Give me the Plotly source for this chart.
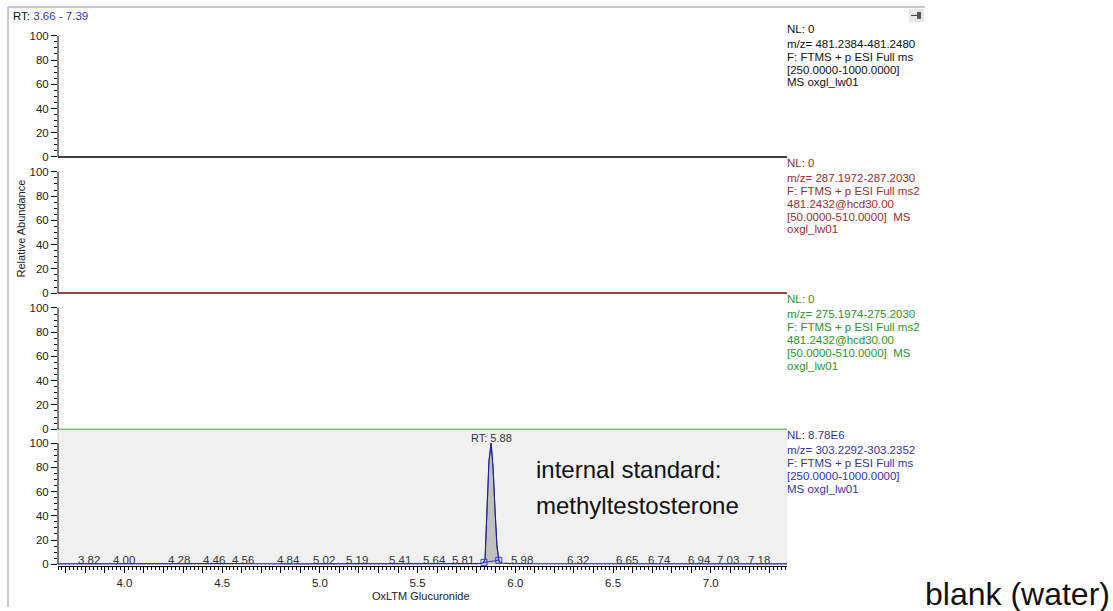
import plotly.graph_objects as go

W, H = 1113, 611

# ---------------- data ----------------
rt_range = [3.66, 7.39]
blank_rt = [3.66, 7.39]
blank_int = [0, 0]

is_rt = [3.66, 3.82, 4.00, 4.28, 4.46, 4.56, 4.84, 5.02, 5.19, 5.41, 5.64, 5.81,
         5.835, 5.845, 5.855, 5.865, 5.876, 5.886, 5.896, 5.906, 5.916, 5.925,
         5.98, 6.32, 6.65, 6.74, 6.94, 7.03, 7.18, 7.39]
is_int = [0.3, 0.4, 0.6, 0.3, 0.3, 0.5, 0.3, 0.3, 0.3, 0.3, 0.5, 0.5,
          1.0, 4.0, 45.0, 85.0, 100.0, 80.0, 45.0, 15.0, 3.0, 1.0,
          0.5, 0.4, 0.4, 0.4, 0.4, 0.5, 0.4, 0.3]

peak_rt = [5.835, 5.845, 5.855, 5.865, 5.876, 5.886, 5.896, 5.906, 5.916, 5.925]
peak_int = [1.0, 4.0, 45.0, 85.0, 100.0, 80.0, 45.0, 15.0, 3.0, 1.0]

integ_rt = [5.84, 5.915]
integ_int = [1.6, 3.3]

peak_label_rt = [3.82, 4.00, 4.28, 4.46, 4.56, 4.84, 5.02, 5.19, 5.41, 5.64, 5.81,
                 5.98, 6.32, 6.65, 6.74, 6.94, 7.03, 7.18]
# horizontal nudges (px) the software applied to avoid label collisions
peak_label_shift = [0, 0, 0, 0, 9, 0, 0, 0, 0, -10, -15,
                    11, 0, -15, 0, 0, 11, 13]
apex_rt = 5.88
apex_int = 100

x_tickvals = [round(3.7 + 0.1 * i, 1) for i in range(37)]
x_ticktext = [("%.1f" % v) if abs(v * 2 - round(v * 2)) < 1e-9 else "" for v in x_tickvals]

panel_info = [
    ["NL: 0", "m/z= 481.2384-481.2480", "F: FTMS + p ESI Full ms",
     "[250.0000-1000.0000]", "MS oxgl_lw01"],
    ["NL: 0", "m/z= 287.1972-287.2030", "F: FTMS + p ESI Full ms2",
     "481.2432@hcd30.00", "[50.0000-510.0000]  MS", "oxgl_lw01"],
    ["NL: 0", "m/z= 275.1974-275.2030", "F: FTMS + p ESI Full ms2",
     "481.2432@hcd30.00", "[50.0000-510.0000]  MS", "oxgl_lw01"],
    ["NL: 8.78E6", "m/z= 303.2292-303.2352", "F: FTMS + p ESI Full ms",
     "[250.0000-1000.0000]", "MS oxgl_lw01"],
]
panel_text_colors = ["#111111", "#9b2d2d", "#2a962a", "#3434a4"]
panel_line_colors = ["#000000", "#6b0a0a", "#86b886", "#1a1a80"]

# ---------------- layout helpers ----------------
def px(x):
    return x / W

def py(y):
    return 1 - y / H

FONT = "Liberation Sans, Arial, sans-serif"
zero_px = [158, 295, 432, 568]
scale = 1.22  # px per unit
ymin, ymax = -1.5, 111.5

fig = go.Figure()

for i in range(3):
    xa = "x" if i == 0 else "x%d" % (i + 1)
    ya = "y" if i == 0 else "y%d" % (i + 1)
    fig.add_trace(go.Scatter(x=blank_rt, y=blank_int, mode="lines",
                             line=dict(color=panel_line_colors[i], width=1.5),
                             xaxis=xa, yaxis=ya, showlegend=False, hoverinfo="skip"))

# panel 4 traces
fig.add_trace(go.Scatter(x=peak_rt, y=peak_int, mode="lines", fill="tozeroy",
                         fillcolor="#c0c0c0", line=dict(color="#22228a", width=0.8),
                         xaxis="x4", yaxis="y4", showlegend=False, hoverinfo="skip"))
fig.add_trace(go.Scatter(x=is_rt, y=is_int, mode="lines",
                         line=dict(color="#22228a", width=1.1),
                         xaxis="x4", yaxis="y4", showlegend=False, hoverinfo="skip"))
fig.add_trace(go.Scatter(x=integ_rt, y=integ_int, mode="lines+markers",
                         line=dict(color="#3a3ad8", width=1),
                         marker=dict(symbol="square-open", size=6, color="#3a3ad8",
                                     line=dict(width=1)),
                         cliponaxis=False,
                         xaxis="x4", yaxis="y4", showlegend=False, hoverinfo="skip"))

layout = dict(width=W, height=H, margin=dict(l=0, r=0, t=0, b=0),
              paper_bgcolor="white", plot_bgcolor="rgba(0,0,0,0)",
              font=dict(family=FONT, size=11, color="#222222"))

shapes = []
annotations = []

for i in range(4):
    suffix = "" if i == 0 else str(i + 1)
    bottom = zero_px[i] - ymin * scale
    top = zero_px[i] - ymax * scale
    ax_common = dict(domain=[px(58), px(787)], range=rt_range, showgrid=False,
                     zeroline=False, fixedrange=True)
    if i < 3:
        layout["xaxis" + suffix] = dict(**ax_common, showticklabels=False, ticks="",
                                        showline=False, matches="x4",
                                        anchor="y" + suffix)
    else:
        layout["xaxis4"] = dict(**ax_common, anchor="y4", showline=True,
                                linecolor="#000000", linewidth=1,
                                ticks="outside", ticklen=6, tickcolor="#000000",
                                tickvals=x_tickvals, ticktext=x_ticktext,
                                tickfont=dict(family=FONT, size=11.5, color="#222222"),
                                minor=dict(dtick=0.02, tick0=3.66, ticks="outside",
                                           ticklen=3, tickcolor="#000000"))
    layout["yaxis" + suffix] = dict(domain=[py(bottom), py(top)], range=[ymin, ymax],
                                    anchor="x" + suffix, showgrid=False, zeroline=False,
                                    showline=False, ticks="outside", ticklen=6,
                                    tickcolor="#000000", tickvals=[0, 20, 40, 60, 80, 100],
                                    tickfont=dict(family=FONT, size=11.5, color="#222222"),
                                    minor=dict(tickvals=[5, 10, 15, 25, 30, 35, 45, 50, 55,
                                                         65, 70, 75, 85, 90, 95],
                                               ticks="outside", ticklen=3,
                                               tickcolor="#000000"),
                                    fixedrange=True)
    # y axis line 0..100
    shapes.append(dict(type="line", xref="x%s domain" % suffix, yref="y" + suffix,
                       x0=0, x1=0, y0=0, y1=100, line=dict(color="#000000", width=1)))
    # panel info text
    base = [29, 164, 301, 438][i]
    offs = [0, 15, 28, 41, 54, 67]
    for j, line in enumerate(panel_info[i]):
        annotations.append(dict(xref="paper", yref="paper", x=px(785), y=py(base + offs[j]),
                                xanchor="left", yanchor="middle", showarrow=False,
                                text=line, font=dict(family=FONT, size=11.5,
                                                     color=panel_text_colors[i])))

# selected-pane gray background
shapes.append(dict(type="rect", xref="x4 domain", yref="paper", x0=0, x1=1,
                   y0=py(568), y1=py(432), fillcolor="#f0f0f0", line=dict(width=0),
                   layer="below"))
shapes.append(dict(type="line", xref="paper", yref="paper", x0=px(58), x1=px(58),
                   y0=py(568), y1=py(432), line=dict(color="#dcdcdc", width=1),
                   layer="below"))
# outer frame
shapes.append(dict(type="line", xref="paper", yref="paper", x0=px(8), x1=px(925),
                   y0=py(7), y1=py(7), line=dict(color="#c8c8c8", width=2)))
shapes.append(dict(type="line", xref="paper", yref="paper", x0=px(8), x1=px(8),
                   y0=py(7), y1=py(611), line=dict(color="#c8c8c8", width=2)))
# pin button
shapes.append(dict(type="rect", xref="paper", yref="paper", x0=px(909), x1=px(924),
                   y0=py(22), y1=py(9), fillcolor="#e6e6e6", line=dict(width=0)))
shapes.append(dict(type="line", xref="paper", yref="paper", x0=px(911), x1=px(919),
                   y0=py(15.5), y1=py(15.5), line=dict(color="#333333", width=1)))
shapes.append(dict(type="rect", xref="paper", yref="paper", x0=px(917), x1=px(921),
                   y0=py(19), y1=py(12), fillcolor="#555555", line=dict(width=0)))

# header
annotations.append(dict(xref="paper", yref="paper", x=px(11), y=py(16), xanchor="left",
                        yanchor="middle", showarrow=False,
                        text="RT: <span style='color:#3535c0'>3.66 - 7.39</span>",
                        font=dict(family=FONT, size=11.5, color="#111111")))

# peak labels
for rt, sh in zip(peak_label_rt, peak_label_shift):
    annotations.append(dict(xref="x4", yref="y4", x=rt, y=0, yanchor="bottom",
                            yshift=-4, xshift=sh, showarrow=False, text="%.2f" % rt,
                            font=dict(family=FONT, size=11.5, color="#333333")))
annotations.append(dict(xref="x4", yref="y4", x=apex_rt, y=apex_int, yanchor="bottom",
                        yshift=-3, showarrow=False, text="RT: %.2f" % apex_rt,
                        font=dict(family=FONT, size=11, color="#333333")))

# big texts
annotations.append(dict(xref="paper", yref="paper", x=px(534), y=py(473), xanchor="left",
                        yanchor="middle", showarrow=False, text="internal standard:",
                        font=dict(family=FONT, size=24, color="#111111")))
annotations.append(dict(xref="paper", yref="paper", x=px(534), y=py(509), xanchor="left",
                        yanchor="middle", showarrow=False, text="methyltestosterone",
                        font=dict(family=FONT, size=24, color="#111111")))
annotations.append(dict(xref="paper", yref="paper", x=px(923), y=py(598), xanchor="left",
                        yanchor="middle", showarrow=False, text="blank (water)",
                        font=dict(family=FONT, size=32, color="#111111")))

# axis titles
annotations.append(dict(xref="paper", yref="paper", x=px(421), y=py(600),
                        xanchor="center", yanchor="middle", showarrow=False,
                        text="OxLTM Glucuronide",
                        font=dict(family=FONT, size=11, color="#222222")))
annotations.append(dict(xref="paper", yref="paper", x=px(21), y=py(230),
                        xanchor="center", yanchor="middle", showarrow=False,
                        textangle=-90, text="Relative Abundance",
                        font=dict(family=FONT, size=11, color="#222222")))

layout["shapes"] = shapes
layout["annotations"] = annotations
fig.update_layout(**layout)

fig.write_html("out.html", config={"displayModeBar": False})
